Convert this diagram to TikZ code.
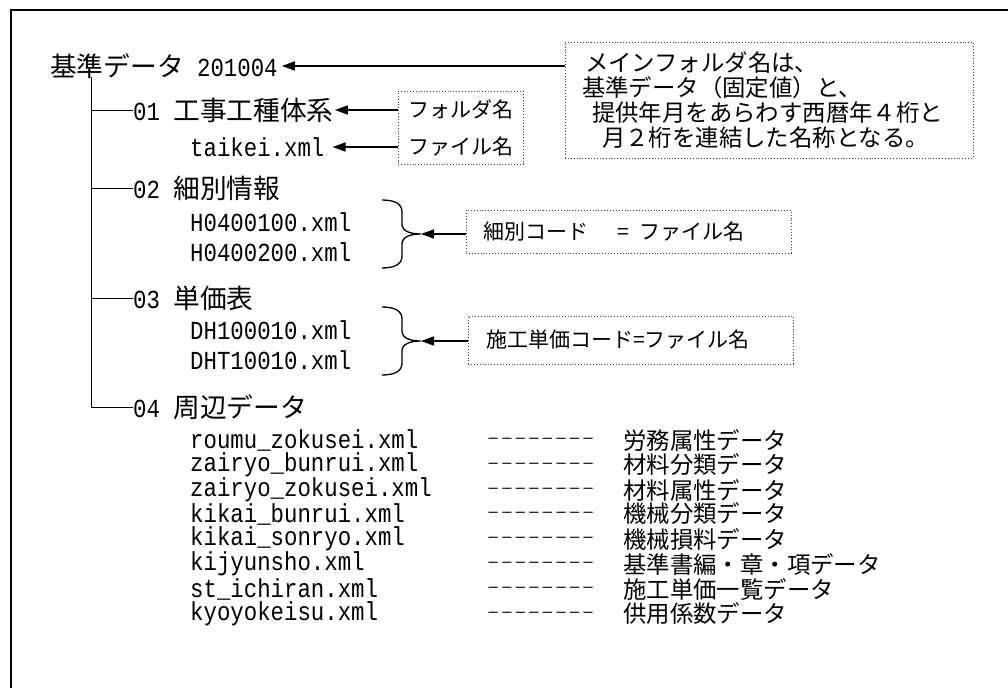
\documentclass[tikz,border=0pt]{standalone}
\usepackage{fontspec}
\usepackage{tikz}
\usetikzlibrary{
    arrows.meta,
    calc,
    positioning
}
\newfontfamily\jpfont{Noto Sans CJK JP}
\newfontfamily\dashfont[FakeStretch=2.4]{Liberation Mono}
\setmonofont[FakeStretch=0.86]{Liberation Mono}
\newcommand{\xmlname}[1]{{\ttfamily\fontsize{26}{28}\selectfont #1}}
\newcommand{\dashrun}{{\dashfont\fontsize{14}{16}\selectfont-\kern-6.6pt-\kern-6.6pt-\kern-6.6pt-\kern-6.6pt-\kern-6.6pt-\kern-6.6pt-\kern-6.6pt-}}

\begin{document}
\begin{tikzpicture}[x=1pt, y=-1pt,
    folder/.style={anchor=west, inner sep=0pt, font=\jpfont\fontsize{26.7}{30}\selectfont},
    fileitem/.style={anchor=west, inner sep=0pt},
    datadesc/.style={anchor=west, inner sep=0pt, font=\jpfont\fontsize{23.4}{26}\selectfont},
    notebox/.style={draw=black!75, dotted, line width=0.9pt, align=left},
    treeline/.style={line width=1pt},
    arr/.style={-{Triangle[length=13pt,width=9pt]}, line width=1.5pt},
    curly/.style={line width=1.3pt}]
                                    \useasboundingbox (0,0) rectangle (1008,688);
                                    \draw[line width=1.6pt] (1008,10) -- (11,10) -- (11,688);
                                    \node[folder] (root) at (50,66) {基準データ\xmlname{~201004}};
                                    \node[folder] (f01) at (133,110) {\xmlname{01~}工事工種体系};
                                    \node[fileitem] (taikei) at (190,147) {\xmlname{taikei.xml}};
                                    \node[folder] (f02) at (133,188) {\xmlname{02~}細別情報};
                                    \node[fileitem] (h1) at (190,222) {\xmlname{H0400100.xml}};
                                    \node[fileitem] (h2) at (190,252) {\xmlname{H0400200.xml}};
                                    \node[folder] (f03) at (133,298) {\xmlname{03~}単価表};
                                    \node[fileitem] (dh1) at (190,330) {\xmlname{DH100010.xml}};
                                    \node[fileitem] (dh2) at (190,360) {\xmlname{DHT10010.xml}};
                                    \node[folder] (f04) at (133,407) {\xmlname{04~}周辺データ};
                                    \node[fileitem] (d1) at (190,440) {\xmlname{roumu\_zokusei.xml}};
                                    \node[fileitem] (s1) at (483,440) {\dashrun};
                                    \node[datadesc] (j1) at (623,440) {労務属性データ};
                                    \node[fileitem] (d2) at (190,465) {\xmlname{zairyo\_bunrui.xml}};
                                    \node[fileitem] (s2) at (483,465) {\dashrun};
                                    \node[datadesc] (j2) at (623,465) {材料分類データ};
                                    \node[fileitem] (d3) at (190,490) {\xmlname{zairyo\_zokusei.xml}};
                                    \node[fileitem] (s3) at (483,490) {\dashrun};
                                    \node[datadesc] (j3) at (623,490) {材料属性データ};
                                    \node[fileitem] (d4) at (190,514) {\xmlname{kikai\_bunrui.xml}};
                                    \node[fileitem] (s4) at (483,514) {\dashrun};
                                    \node[datadesc] (j4) at (623,514) {機械分類データ};
                                    \node[fileitem] (d5) at (190,539) {\xmlname{kikai\_sonryo.xml}};
                                    \node[fileitem] (s5) at (483,539) {\dashrun};
                                    \node[datadesc] (j5) at (623,539) {機械損料データ};
                                    \node[fileitem] (d6) at (190,564) {\xmlname{kijyunsho.xml}};
                                    \node[fileitem] (s6) at (483,564) {\dashrun};
                                    \node[datadesc] (j6) at (623,564) {基準書編・章・項データ};
                                    \node[fileitem] (d7) at (190,589) {\xmlname{st\_ichiran.xml}};
                                    \node[fileitem] (s7) at (483,589) {\dashrun};
                                    \node[datadesc] (j7) at (623,589) {施工単価一覧データ};
                                    \node[fileitem] (d8) at (190,614) {\xmlname{kyoyokeisu.xml}};
                                    \node[fileitem] (s8) at (483,614) {\dashrun};
                                    \node[datadesc] (j8) at (623,614) {供用係数データ};
                                    \node[notebox, font=\jpfont\fontsize{23.4}{25}\selectfont, minimum width=408pt, minimum height=116pt, text width=374pt, inner xsep=17pt] (mainbox) at (769,100) {\hspace*{3pt}メインフォルダ名は、\\基準データ（固定値）と、\\\hspace*{10pt}提供年月をあらわす西暦年４桁と\\\hspace*{20pt}月２桁を連結した名称となる。};
                                    \node[notebox, font=\jpfont\fontsize{21}{37}\selectfont, inner xsep=10pt, minimum height=73pt] (namebox) at (460.5,127.5) {フォルダ名\\ファイル名};
                                    \node[notebox, font=\jpfont\fontsize{21}{24}\selectfont, minimum width=325pt, minimum height=43pt, text width=291pt, inner xsep=17pt] (codebox1) at (628.5,231.5) {細別コード\hspace{30pt}=\hspace{10pt}ファイル名};
                                    \node[notebox, font=\jpfont\fontsize{21}{24}\selectfont, minimum width=325pt, minimum height=48pt, text width=289pt, inner xsep=18pt] (codebox2) at (630.5,340) {施工単価コード=ファイル名};
                                    \coordinate (trunk) at (91,77);
                                    \coordinate (b1top) at (382,200);
                                    \coordinate (b1tip) at (421,234);
                                    \coordinate (b2top) at (382,307);
                                    \coordinate (b2tip) at (421,341);
                                    \draw[treeline]
                                    (trunk) |- (f01.west)
                                    (trunk) |- (f02.west)
                                    (trunk) |- (f03.west)
                                    (trunk) |- (f04.west);
                                    \draw[curly] (b1top) .. controls +(13,0) and +(0,-8) .. ++(20,12) -- ++(0,12) .. controls +(0,7) and +(-11,0) .. ++(19,10) .. controls +(-11,0) and +(0,-7) .. ++(-19,10) -- ++(0,12) .. controls +(0,8) and +(13,0) .. ++(-20,12);
                                    \draw[curly] (b2top) .. controls +(13,0) and +(0,-8) .. ++(20,12) -- ++(0,12) .. controls +(0,7) and +(-11,0) .. ++(19,10) .. controls +(-11,0) and +(0,-7) .. ++(-19,10) -- ++(0,12) .. controls +(0,8) and +(13,0) .. ++(-20,12);
                                    \draw
                                    (root.east -| mainbox.west) edge[arr] ([xshift=4pt]root.east)
                                    (f01.east -| namebox.west) edge[arr] ([xshift=1pt]f01.east)
                                    (taikei.east -| namebox.west) edge[arr] ([xshift=8pt]taikei.east)
                                    (b1tip -| codebox1.west) edge[arr] (b1tip)
                                    (b2tip -| codebox2.west) edge[arr] (b2tip);
                                \end{tikzpicture}
\end{document}
